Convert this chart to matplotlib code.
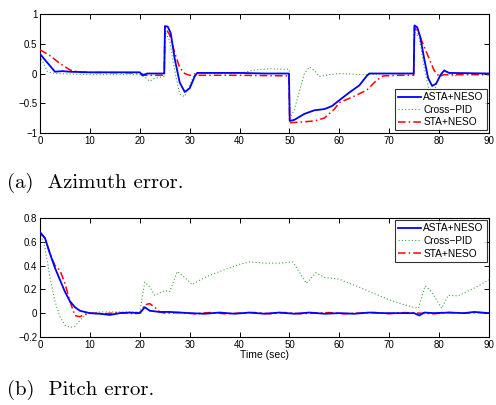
import matplotlib
matplotlib.use("Agg")
import matplotlib.pyplot as plt

# ---------------- Azimuth error data ----------------
az_asta_t = [0, 3, 4.5, 6, 10, 15, 20, 20.5, 21.5, 24.9, 25.05, 25.6, 26.2, 27, 28, 29, 30, 31, 31.5, 35, 40, 45, 49.9,
             50.05, 51, 53, 55, 57, 58.5, 60, 62, 64, 65.5, 66, 70, 74.9,
             75.05, 75.6, 76.2, 77, 77.8, 78.6, 79.4, 80.3, 81, 82, 90]
az_asta_v = [0.33, 0.03, 0.04, 0.03, 0.02, 0.02, 0.02, -0.03, 0.0, 0.0, 0.80, 0.79, 0.68, 0.25, -0.15, -0.31, -0.25, -0.05, 0.01, 0.01, 0.01, 0.0, 0.0,
             -0.80, -0.78, -0.68, -0.62, -0.60, -0.55, -0.45, -0.32, -0.2, -0.04, 0.0, 0.0, 0.0,
             0.81, 0.78, 0.62, 0.25, -0.08, -0.21, -0.17, -0.02, 0.05, 0.01, 0.0]

az_pid_t = [0, 1.5, 3, 10, 20, 21, 22, 23, 24.9, 25.1, 26, 27, 28, 29, 30, 31, 35, 40, 43, 46, 49.95,
            50.1, 51, 52, 53, 54, 55, 56, 58, 60, 65, 70, 74.95,
            75.1, 76, 77, 78, 79, 80, 81, 82, 83, 84, 90]
az_pid_v = [0.30, 0.03, 0.0, -0.02, -0.02, -0.06, -0.13, -0.08, -0.05, 0.70, 0.55, 0.05, -0.35, -0.39, -0.2, 0.0, 0.0, 0.0, 0.06, 0.08, 0.07,
            -0.75, -0.6, -0.3, 0.0, 0.11, 0.05, -0.05, -0.02, 0.0, -0.02, 0.0, 0.0,
            0.70, 0.6, 0.1, -0.3, -0.3, -0.05, 0.06, 0.0, -0.05, 0.0, 0.0]

az_sta_t = [0, 2, 4, 6, 8, 20, 21, 24.9, 25.05, 26, 27, 28, 29, 30, 40, 49.9,
            50.05, 52, 55, 57, 59, 60, 62.8, 65.5, 67.5, 68.8, 72, 74.9,
            75.05, 76, 77.5, 79, 80, 81, 90]
az_sta_v = [0.40, 0.30, 0.17, 0.06, 0.02, 0.01, -0.03, -0.03, 0.78, 0.65, 0.35, 0.1, 0.0, -0.03, -0.03, -0.04,
            -0.83, -0.82, -0.80, -0.75, -0.6, -0.49, -0.39, -0.28, -0.11, -0.04, -0.03, -0.03,
            0.78, 0.65, 0.35, 0.05, -0.05, -0.02, -0.02]

# ---------------- Pitch error data ----------------
pt_asta_t = [0, 1, 2, 3, 4, 5, 6, 7, 8, 9, 10, 12, 14, 16, 18, 20, 21, 22, 24, 26, 28, 30, 33, 36, 39, 42, 45, 48,
             51, 54, 57, 60, 63, 66, 69, 72, 75, 76, 77, 79, 82, 85, 87, 90]
pt_asta_v = [0.68, 0.63, 0.50, 0.38, 0.28, 0.18, 0.10, 0.05, 0.02, 0.01, 0.0, -0.005, -0.015, 0.0, 0.005, 0.0, 0.05, 0.02, 0.01, 0.01, 0.005, 0.0, -0.005, 0.005, -0.005, 0.005, -0.005, 0.005,
             -0.005, 0.005, -0.005, 0.0, -0.005, 0.005, 0.0, 0.0, 0.0, -0.02, 0.005, 0.0, 0.005, 0.0, 0.01, 0.0]

pt_pid_t = [0, 1, 2, 3, 4, 5, 6, 7, 8, 9, 10, 12, 20, 21, 22, 23, 24, 25, 26, 27.5, 29, 30.5, 33, 36, 40, 42, 45, 48, 50.7,
            53.4, 55.3, 57, 60, 65, 70.1, 73, 75.8, 77.2, 78.5, 80.5, 81.8, 83.8, 87, 90]
pt_pid_v = [0.68, 0.55, 0.30, 0.10, -0.03, -0.10, -0.12, -0.11, -0.06, -0.02, 0.0, 0.01, 0.01, 0.26, 0.22, 0.15, 0.17, 0.19, 0.18, 0.35, 0.30, 0.24, 0.30, 0.35, 0.41, 0.43, 0.42, 0.42, 0.43,
            0.25, 0.34, 0.30, 0.285, 0.20, 0.11, 0.07, 0.04, 0.23, 0.18, 0.04, 0.15, 0.145, 0.21, 0.28]

pt_sta_t = [0, 1, 2, 3, 4, 5, 6, 7, 8, 9, 10, 13, 16, 19, 20, 21, 22, 23, 24, 25, 28, 31, 34, 37, 40, 43, 46, 49,
            52, 55, 58, 61, 64, 67, 70, 73, 76, 79, 82, 85, 88, 90]
pt_sta_v = [0.68, 0.63, 0.50, 0.40, 0.36, 0.25, 0.10, -0.02, -0.03, -0.01, 0.0, -0.005, 0.005, -0.005, 0.0, 0.07, 0.08, 0.05, 0.01, 0.0, 0.005, -0.005, 0.005, -0.005, 0.0, 0.005, -0.005, 0.005,
            -0.005, 0.0, 0.005, -0.005, 0.0, 0.005, -0.005, 0.005, 0.0, -0.005, 0.005, 0.0, 0.005, 0.0]

labels = ["ASTA+NESO", "Cross\u2212PID", "STA+NESO"]
az_yticks = [-1, -0.5, 0, 0.5, 1]
az_yticklabels = ["\u22121", "\u22120.5", "0", "0.5", "1"]
pt_yticks = [-0.2, 0, 0.2, 0.4, 0.6, 0.8]
pt_yticklabels = ["\u22120.2", "0", "0.2", "0.4", "0.6", "0.8"]
xticks = list(range(0, 91, 10))

fig = plt.figure(figsize=(4.96, 4.05), dpi=100)
sans = "Liberation Sans"

def style(ax, yt, ytl, ylim):
    ax.set_xlim(0, 90)
    ax.set_ylim(*ylim)
    ax.set_xticks(xticks)
    ax.set_yticks(yt)
    ax.set_yticklabels(ytl)
    ax.tick_params(direction="in", top=True, right=True, length=3.5, width=0.7, labelsize=7, pad=2)
    for lab in ax.get_xticklabels() + ax.get_yticklabels():
        lab.set_fontfamily(sans)
    for s in ax.spines.values():
        s.set_linewidth(0.8)

def legend(ax, loc):
    leg = ax.legend(loc=loc, frameon=True, fancybox=False, edgecolor="black",
                    borderaxespad=0.25, handlelength=2.3, handletextpad=0.2, borderpad=0.3,
                    labelspacing=0.25, prop={"family": sans, "size": 7.3})
    leg.get_frame().set_linewidth(0.8)

ax1 = fig.add_axes([0.0806, 0.672, 0.9054, 0.293])
ax1.plot(az_asta_t, az_asta_v, color="#0000ff", lw=1.3, label=labels[0], zorder=4)
ax1.plot(az_pid_t, az_pid_v, color="#3aa83a", lw=0.8, ls=(0, (1, 2)), label=labels[1], zorder=2)
ax1.plot(az_sta_t, az_sta_v, color="#ff0000", lw=1.1, ls=(0, (5, 2, 1, 2)), label=labels[2], zorder=3)
style(ax1, az_yticks, az_yticklabels, (-1, 1))
legend(ax1, "lower right")

ax2 = fig.add_axes([0.0806, 0.168, 0.9054, 0.294])
ax2.plot(pt_asta_t, pt_asta_v, color="#0000ff", lw=1.3, label=labels[0], zorder=4)
ax2.plot(pt_pid_t, pt_pid_v, color="#3aa83a", lw=0.8, ls=(0, (1, 2)), label=labels[1], zorder=2)
ax2.plot(pt_sta_t, pt_sta_v, color="#ff0000", lw=1.1, ls=(0, (5, 2, 1, 2)), label=labels[2], zorder=3)
style(ax2, pt_yticks, pt_yticklabels, (-0.2, 0.8))
ax2.set_xlabel("Time (sec)", fontsize=7.5, fontfamily=sans, labelpad=0)
legend(ax2, "upper right")

fig.text(0.014, 1 - 183 / 405, "(a)  Azimuth error.", fontfamily="cmr10", fontsize=15, va="center", ha="left")
fig.text(0.014, 1 - 390 / 405, "(b)  Pitch error.", fontfamily="cmr10", fontsize=15, va="center", ha="left")

fig.savefig("out.png", dpi=100)
